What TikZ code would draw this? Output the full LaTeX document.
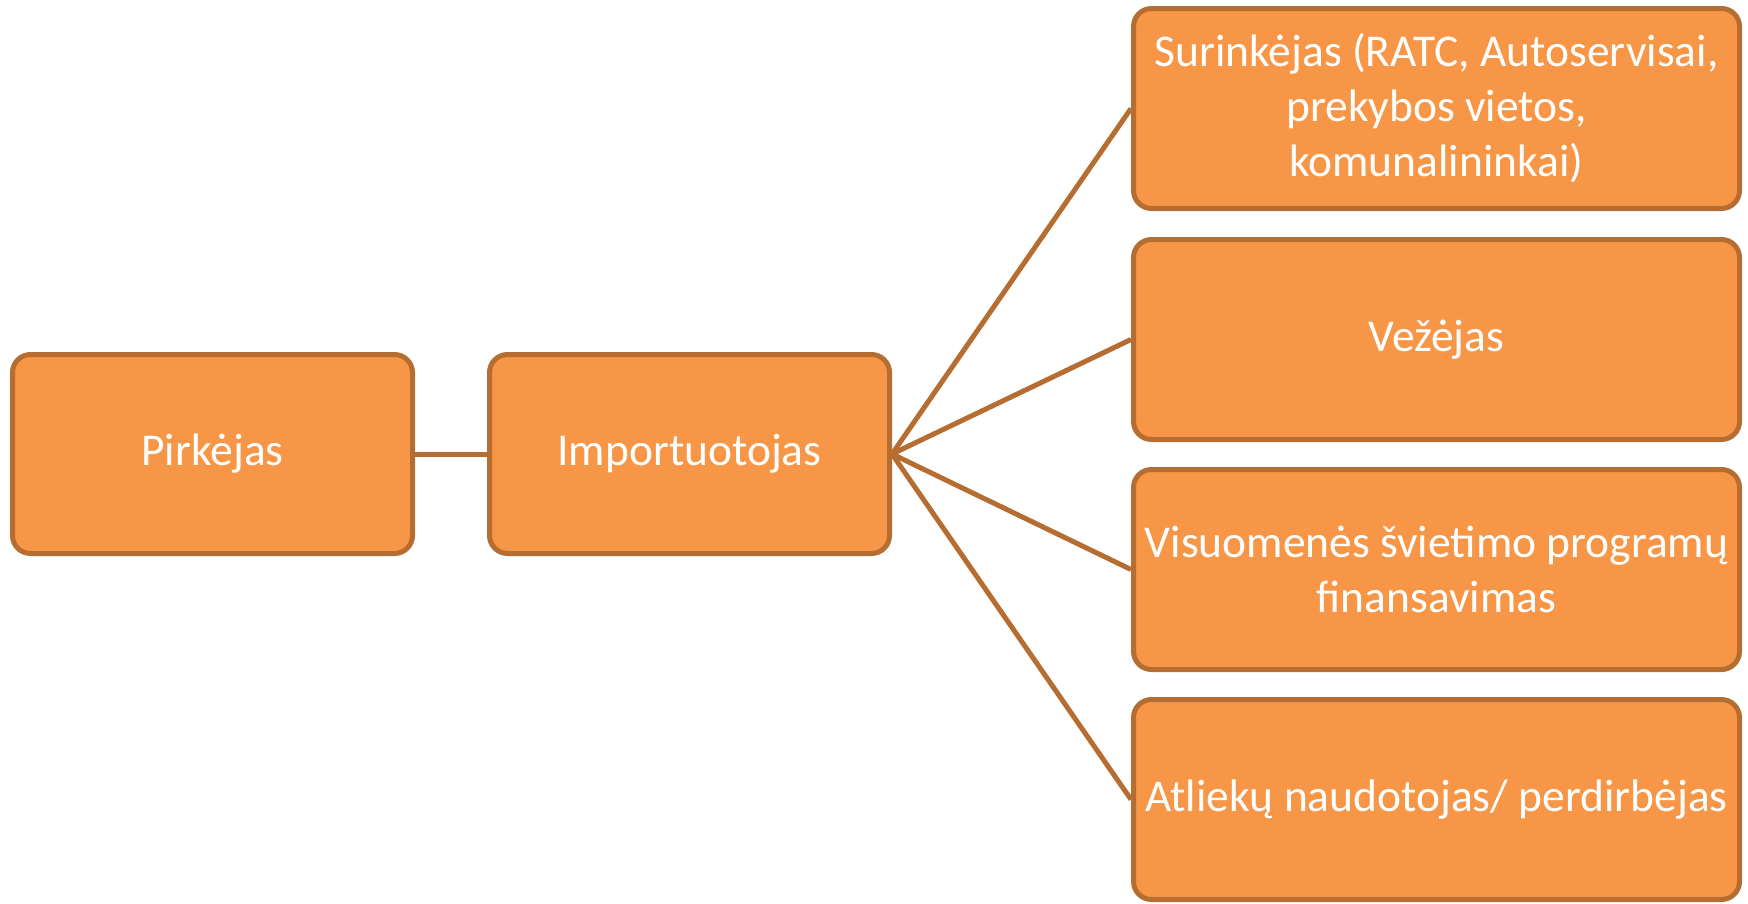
\documentclass[tikz,border=0pt]{standalone}
\usepackage{fontspec}
\setmainfont{Carlito}
\definecolor{boxfill}{HTML}{F79646}
\definecolor{boxline}{HTML}{B66D31}
\begin{document}
\begin{tikzpicture}[x=1pt,y=-1pt,
  orgbox/.style={draw=boxline, fill=boxfill, line width=5pt, rounded corners=18pt,
    inner sep=0pt, text=white, align=center, font=\fontsize{45.5}{55}\selectfont},
  smallbox/.style={orgbox, minimum width=400pt, minimum height=199pt},
  widebox/.style={orgbox, minimum width=606pt, minimum height=200pt},
  link/.style={draw=boxline, line width=5pt}]
\useasboundingbox (0,0) rectangle (1748,903);
\node[smallbox] (p) at (212.5,454) {Pirkėjas};
\node[smallbox] (i) at (689.5,454) {Importuotojas};
\node[widebox] (b1) at (1436.5,108.5) {Surinkėjas (RATC, Autoservisai,\\ prekybos vietos,\\ komunalininkai)};
\node[widebox] (b2) at (1436.5,339.5) {Vežėjas};
\node[widebox] (b3) at (1436.5,569.5) {Visuomenės švietimo programų\\ finansavimas};
\node[widebox] (b4) at (1436.5,799.5) {Atliekų naudotojas/ perdirbėjas};
\draw[link] (p.east) -- (i.west);
\foreach \b in {b1,b2,b3,b4} \draw[link] (i.east) -- (\b.west);
\end{tikzpicture}
\end{document}
